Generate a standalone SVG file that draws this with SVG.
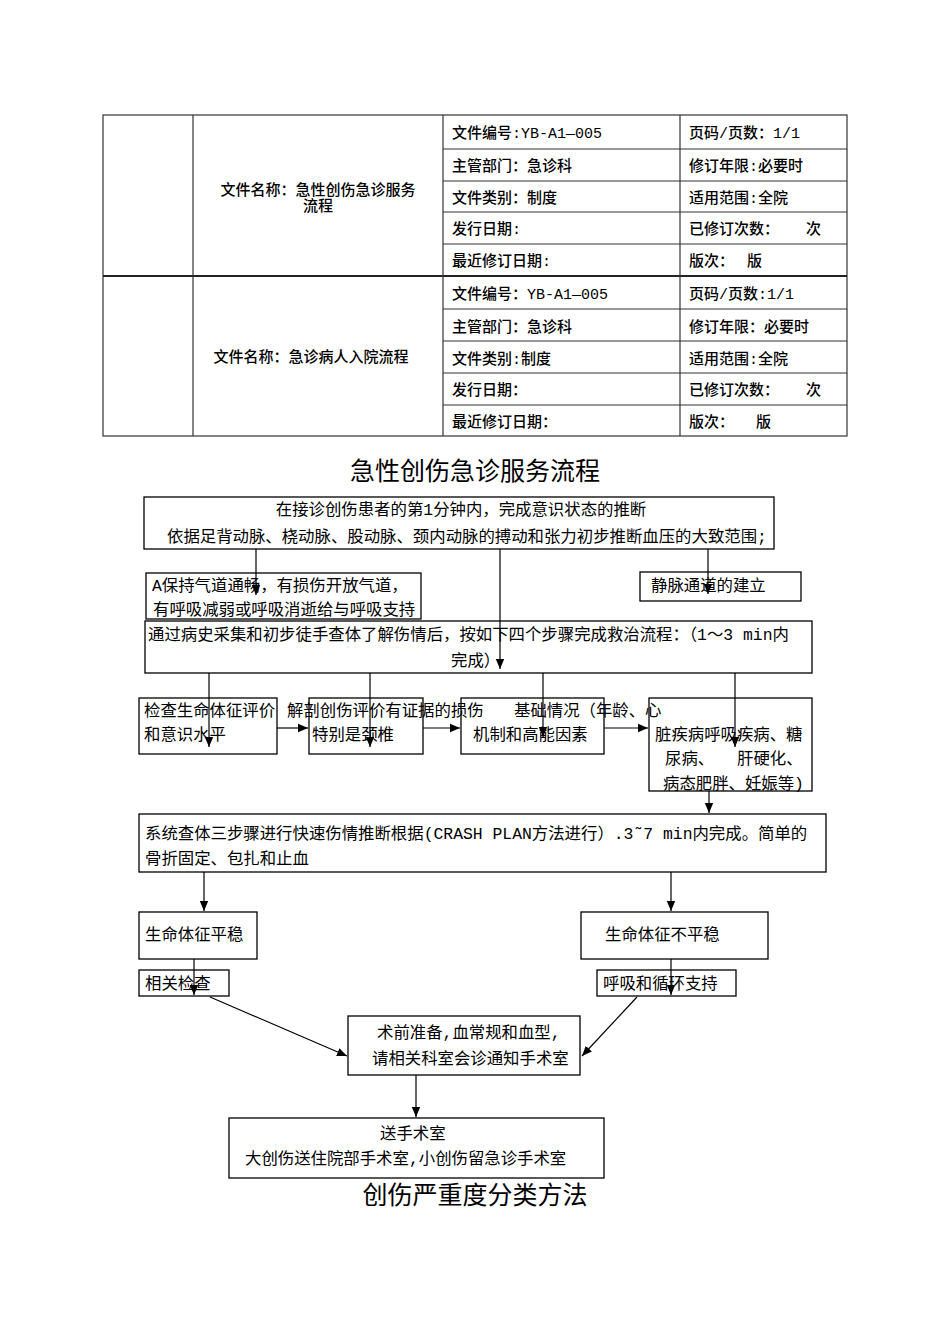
<svg xmlns="http://www.w3.org/2000/svg" width="950" height="1344" viewBox="0 0 950 1344">
<style>
.tl{stroke:#333;stroke-width:1.2;fill:none}
.tt{font-family:"Liberation Mono","Noto Sans CJK SC",monospace;font-size:15px;font-weight:500;fill:#000}
.title{font-family:"Noto Sans CJK SC",sans-serif;font-size:25px;fill:#000}
.box{fill:none;stroke:#000;stroke-width:1.3}
.ft{font-family:"Liberation Mono","Noto Sans CJK SC",monospace;font-size:16.4px;fill:#000}
.cn{stroke:#000;stroke-width:1.2;fill:none;marker-end:url(#ah)}
</style>
<defs>
<marker id="ah" markerUnits="userSpaceOnUse" markerWidth="10" markerHeight="10" viewBox="0 0 10 10" refX="10" refY="5" orient="auto">
<path d="M0,0.8 L10,5 L0,9.2 Z" fill="#000"/>
</marker>
</defs>
<rect width="950" height="1344" fill="#fff"/>

<g id="table">
<rect x="103" y="115" width="744" height="321" class="tl"/>
<line x1="103" y1="276" x2="847" y2="276" stroke="#222" stroke-width="2.2"/>
<line x1="193" y1="115" x2="193" y2="436" class="tl"/>
<line x1="443" y1="115" x2="443" y2="436" class="tl"/>
<line x1="680" y1="115" x2="680" y2="436" class="tl"/>
<line x1="443" y1="149" x2="847" y2="149" class="tl"/>
<line x1="443" y1="181" x2="847" y2="181" class="tl"/>
<line x1="443" y1="212" x2="847" y2="212" class="tl"/>
<line x1="443" y1="244" x2="847" y2="244" class="tl"/>
<line x1="443" y1="309" x2="847" y2="309" class="tl"/>
<line x1="443" y1="341" x2="847" y2="341" class="tl"/>
<line x1="443" y1="373" x2="847" y2="373" class="tl"/>
<line x1="443" y1="405" x2="847" y2="405" class="tl"/>
<text class="tt" x="318" y="195" text-anchor="middle">文件名称：急性创伤急诊服务</text>
<text class="tt" x="318" y="211" text-anchor="middle">流程</text>
<text class="tt" x="452" y="138">文件编号:YB-A1—005</text>
<text class="tt" x="689" y="138">页码/页数：1/1</text>
<text class="tt" x="452" y="171">主管部门：急诊科</text>
<text class="tt" x="689" y="171">修订年限:必要时</text>
<text class="tt" x="452" y="203">文件类别：制度</text>
<text class="tt" x="689" y="203">适用范围:全院</text>
<text class="tt" x="452" y="234">发行日期:</text>
<text class="tt" x="689" y="234">已修订次数：</text>
<text class="tt" x="806" y="234">次</text>
<text class="tt" x="452" y="266">最近修订日期:</text>
<text class="tt" x="689" y="266">版次：</text>
<text class="tt" x="747" y="266">版</text>

<text class="tt" x="311" y="362" text-anchor="middle">文件名称：急诊病人入院流程</text>
<text class="tt" x="452" y="299">文件编号：YB-A1—005</text>
<text class="tt" x="689" y="299">页码/页数:1/1</text>
<text class="tt" x="452" y="332">主管部门：急诊科</text>
<text class="tt" x="689" y="332">修订年限：必要时</text>
<text class="tt" x="452" y="364">文件类别:制度</text>
<text class="tt" x="689" y="364">适用范围:全院</text>
<text class="tt" x="452" y="395">发行日期：</text>
<text class="tt" x="689" y="395">已修订次数：</text>
<text class="tt" x="806" y="395">次</text>
<text class="tt" x="452" y="427">最近修订日期：</text>
<text class="tt" x="689" y="427">版次：</text>
<text class="tt" x="756" y="427">版</text>
</g>

<text class="title" x="475" y="480" text-anchor="middle">急性创伤急诊服务流程</text>

<g id="n1">
<rect class="box" x="144" y="497" width="630" height="52"/>
<text class="ft" x="461" y="515" text-anchor="middle">在接诊创伤患者的第1分钟内，完成意识状态的推断</text>
<text class="ft" x="167" y="542">依据足背动脉、桡动脉、股动脉、颈内动脉的搏动和张力初步推断血压的大致范围;</text>
</g>
<g id="n2">
<rect class="box" x="146" y="573" width="275" height="46"/>
<text class="ft" x="152" y="591">A保持气道通畅，有损伤开放气道，</text>
<text class="ft" x="153" y="615">有呼吸减弱或呼吸消逝给与呼吸支持</text>
</g>
<g id="n3">
<rect class="box" x="640" y="572" width="161" height="29"/>
<text class="ft" x="651" y="591">静脉通道的建立</text>
</g>
<g id="n4">
<rect class="box" x="145" y="621" width="667" height="52"/>
<text class="ft" x="148" y="640">通过病史采集和初步徒手查体了解伤情后，按如下四个步骤完成救治流程：（1～3 min内</text>
<text class="ft" x="451" y="666">完成）</text>
</g>
<g id="n5">
<rect class="box" x="139" y="698" width="138" height="56"/>
<text class="ft" x="144" y="716">检查生命体征评价</text>
<text class="ft" x="144" y="740">和意识水平</text>
</g>
<g id="n6">
<rect class="box" x="309" y="698" width="114" height="56"/>
<text class="ft" x="287" y="716">解剖创伤评价有证据的损伤</text>
<text class="ft" x="312" y="740">特别是颈椎</text>
</g>
<g id="n7">
<rect class="box" x="461" y="698" width="143" height="56"/>
<text class="ft" x="514" y="716">基础情况（年龄、心</text>
<text class="ft" x="473" y="740">机制和高能因素</text>
</g>
<g id="n8">
<rect class="box" x="649" y="698" width="163" height="93"/>
<text class="ft" x="655" y="740">脏疾病呼吸疾病、糖</text>
<text class="ft" x="665" y="764">尿病、</text>
<text class="ft" x="737" y="764">肝硬化、</text>
<text class="ft" x="663" y="789">病态肥胖、妊娠等)</text>
</g>
<g id="n9">
<rect class="box" x="139" y="814" width="687" height="58"/>
<text class="ft" x="145" y="839">系统查体三步骤进行快速伤情推断根据(CRASH PLAN方法进行）.3˜7 min内完成。简单的</text>
<text class="ft" x="145" y="864">骨折固定、包扎和止血</text>
</g>
<g id="n10">
<rect class="box" x="139" y="912" width="118" height="47"/>
<text class="ft" x="145" y="940">生命体征平稳</text>
</g>
<g id="n11">
<rect class="box" x="581" y="912" width="187" height="47"/>
<text class="ft" x="605" y="940">生命体征不平稳</text>
</g>
<g id="n12">
<rect class="box" x="139" y="970" width="90" height="26"/>
<text class="ft" x="145" y="989">相关检查</text>
</g>
<g id="n13">
<rect class="box" x="597" y="970" width="139" height="26"/>
<text class="ft" x="603" y="989">呼吸和循环支持</text>
</g>
<g id="n14">
<rect class="box" x="348" y="1016" width="232" height="59"/>
<text class="ft" x="377" y="1038">术前准备,血常规和血型,</text>
<text class="ft" x="372" y="1064">请相关科室会诊通知手术室</text>
</g>
<g id="n15">
<rect class="box" x="229" y="1118" width="375" height="60"/>
<text class="ft" x="380" y="1139">送手术室</text>
<text class="ft" x="245" y="1164">大创伤送住院部手术室,小创伤留急诊手术室</text>
</g>

<text class="title" x="475" y="1204" text-anchor="middle">创伤严重度分类方法</text>

<g id="connectors">
<line class="cn" x1="256" y1="549" x2="256" y2="595"/>
<line class="cn" x1="500" y1="549" x2="500" y2="669"/>
<line class="cn" x1="708" y1="549" x2="708" y2="594"/>
<line class="cn" x1="209" y1="673" x2="209" y2="747"/>
<line class="cn" x1="370" y1="673" x2="370" y2="747"/>
<line class="cn" x1="543" y1="673" x2="543" y2="737"/>
<line class="cn" x1="735" y1="673" x2="735" y2="747"/>
<line class="cn" x1="277" y1="728" x2="308" y2="728"/>
<line class="cn" x1="423" y1="728" x2="460" y2="728"/>
<line class="cn" x1="604" y1="728" x2="648" y2="728"/>
<line class="cn" x1="709" y1="791" x2="709" y2="813"/>
<line class="cn" x1="204" y1="872" x2="204" y2="911"/>
<line class="cn" x1="671" y1="872" x2="671" y2="911"/>
<line class="cn" x1="194" y1="959" x2="194" y2="995"/>
<line class="cn" x1="671" y1="959" x2="671" y2="995"/>
<line class="cn" x1="210" y1="997" x2="347" y2="1056"/>
<line class="cn" x1="637" y1="997" x2="582" y2="1056"/>
<line class="cn" x1="416" y1="1075" x2="416" y2="1117"/>
</g>
</svg>
